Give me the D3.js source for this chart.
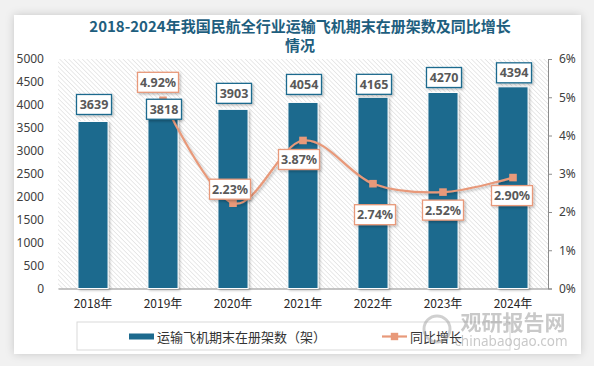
<!DOCTYPE html>
<html><head><meta charset="utf-8">
<script src="https://cdn.jsdelivr.net/npm/d3@7/dist/d3.min.js"></script>
<style>
html,body{margin:0;padding:0;background:#f1f1f1;}
svg{display:block;}
</style></head>
<body>
<svg id="chart" width="594" height="366"></svg>
<script>
const categories = ["2018年","2019年","2020年","2021年","2022年","2023年","2024年"];
const fleet = [3639,3818,3903,4054,4165,4270,4394];
const growth = [null,4.92,2.23,3.87,2.74,2.52,2.90];
const leftTicks = [0,500,1000,1500,2000,2500,3000,3500,4000,4500,5000];
const rightTicks = [0,1,2,3,4,5,6];
const titleLines = ["2018-2024年我国民航全行业运输飞机期末在册架数及同比增长","情况"];
const legendLabels = ["运输飞机期末在册架数（架）","同比增长"];
// label placement offsets (px) relative to mark
const barLabelDy = [-17,-4,-16,-18,-13,-15,-14];
const lineLabelDx = [0,-5,-3,-4,2,0,-1];
const lineLabelDy = [0,-18,-14,19,31,18,18];

const BLUE = "#1d6a8e", ORANGE = "#e8997a", LABEL = "#595959";
const svg = d3.select("#chart");
const defs = svg.append("defs");
const sh = defs.append("filter").attr("id","shadow").attr("x","-20%").attr("y","-20%").attr("width","150%").attr("height","150%");
sh.append("feDropShadow").attr("dx",1.5).attr("dy",1.5).attr("stdDeviation",1.2).attr("flood-color","#000").attr("flood-opacity",0.25);
const cardSh = defs.append("filter").attr("id","cardshadow").attr("x","-5%").attr("y","-5%").attr("width","110%").attr("height","110%");
cardSh.append("feDropShadow").attr("dx",0).attr("dy",0).attr("stdDeviation",4).attr("flood-color","#000").attr("flood-opacity",0.18);
const pat = defs.append("pattern").attr("id","hatch").attr("patternUnits","userSpaceOnUse")
  .attr("width",3.2).attr("height",3.2).attr("patternTransform","rotate(-45)");
pat.append("rect").attr("width",3.2).attr("height",3.2).attr("fill","#ffffff");
pat.append("line").attr("x1",0).attr("y1",0).attr("x2",0).attr("y2",3.2).attr("stroke","#d4d4d4").attr("stroke-width",1);

// card
svg.append("rect").attr("x",14).attr("y",15).attr("width",567).attr("height",339).attr("fill","#fff").attr("filter","url(#cardshadow)");

// title
svg.append("g").selectAll("text").data(titleLines).join("text")
  .attr("x",300).attr("y",(d,i)=>32+i*19).attr("text-anchor","middle")
  .attr("font-family","'Noto Sans CJK SC','Noto Sans',sans-serif").attr("font-weight","bold")
  .attr("font-size",15).attr("fill","#1e5e7e").text(d=>d);

const m = {l:58, r:548, t:59, b:288.5};
const x = d3.scaleBand().domain(categories).range([m.l,m.r]).paddingInner(0.57).paddingOuter(0.285);
const yL = d3.scaleLinear().domain([0,5000]).range([m.b,m.t]);
const yR = d3.scaleLinear().domain([0,6]).range([m.b,m.t]);

// plot area hatch
svg.append("rect").attr("x",m.l).attr("y",m.t).attr("width",m.r-m.l).attr("height",m.b-m.t).attr("fill","url(#hatch)");

// left axis
const gL = svg.append("g").attr("transform",`translate(${m.l-14},0)`)
  .call(d3.axisLeft(yL).tickValues(leftTicks).tickSize(0).tickPadding(0).tickFormat(d3.format("d")));
gL.select(".domain").remove();
gL.selectAll("text").attr("font-family","'Noto Sans',sans-serif").attr("font-size",12).attr("fill","#404040");

// right axis
const gR = svg.append("g").attr("transform",`translate(${m.r},0)`)
  .call(d3.axisRight(yR).tickValues(rightTicks).tickSize(4).tickPadding(7).tickFormat(d=>d+"%"));
gR.select(".domain").attr("stroke","#8c8c8c");
gR.selectAll(".tick line").attr("stroke","#8c8c8c");
gR.selectAll("text").attr("font-family","'Noto Sans',sans-serif").attr("font-size",12).attr("fill","#404040");

// bottom axis
const gB = svg.append("g").attr("transform",`translate(0,${m.b})`)
  .call(d3.axisBottom(x).tickSize(0).tickPadding(11));
gB.select(".domain").attr("stroke","#8c8c8c").attr("stroke-width",1.2);
gB.selectAll("text").attr("font-family","'Noto Sans CJK SC','Noto Sans',sans-serif").attr("font-size",12).attr("fill","#262626");

// bars
svg.append("g").selectAll("rect").data(fleet).join("rect")
  .attr("x",(d,i)=>x(categories[i])).attr("width",x.bandwidth())
  .attr("y",d=>yL(d)).attr("height",d=>m.b-yL(d))
  .attr("fill",BLUE).attr("stroke","#fff").attr("stroke-width",1).attr("filter","url(#shadow)");

// line
const pts = growth.map((v,i)=>({v,i})).filter(d=>d.v!==null);
const cx = i => x(categories[i]) + x.bandwidth()/2;
const line = d3.line().x(d=>cx(d.i)).y(d=>yR(d.v)).curve(d3.curveCatmullRom.alpha(0));
svg.append("path").datum(pts).attr("d",line).attr("fill","none").attr("stroke",ORANGE).attr("stroke-width",2.2).attr("filter","url(#shadow)");
svg.append("g").selectAll("rect").data(pts).join("rect")
  .attr("x",d=>cx(d.i)-3.8).attr("y",d=>yR(d.v)-3.8).attr("width",7.6).attr("height",7.6).attr("fill",ORANGE);

// label helper
function labelBox(g, cxv, cyv, text, color, w){
  g.append("rect").attr("x",cxv-w/2).attr("y",cyv-10).attr("width",w).attr("height",20)
    .attr("fill","#fff").attr("stroke",color).attr("stroke-width",1.3).attr("filter","url(#shadow)");
  g.append("text").attr("x",cxv).attr("y",cyv+4.5).attr("text-anchor","middle")
    .attr("font-family","'Noto Sans','Open Sans',sans-serif").attr("font-weight","bold").attr("font-size",12.5)
    .attr("fill",LABEL).text(text);
}
const lblG = svg.append("g");
pts.forEach(d=>{
  labelBox(lblG, cx(d.i)+lineLabelDx[d.i], yR(d.v)+lineLabelDy[d.i], d.v.toFixed(2)+"%", ORANGE, 41);
});
fleet.forEach((v,i)=>{
  labelBox(lblG, cx(i)+1, yL(v)+barLabelDy[i], String(v), BLUE, 35);
});

// legend
const lg = svg.append("g");
lg.append("rect").attr("x",77).attr("y",322).attr("width",433).attr("height",28).attr("fill","none").attr("stroke","#d9d9d9");
lg.append("rect").attr("x",129).attr("y",333.5).attr("width",25).attr("height",6).attr("fill",BLUE);
lg.append("text").attr("x",157).attr("y",341.5).attr("font-family","'Noto Sans CJK SC',sans-serif").attr("font-size",13).attr("fill","#333").text(legendLabels[0]);
lg.append("line").attr("x1",382).attr("x2",407).attr("y1",336.5).attr("y2",336.5).attr("stroke",ORANGE).attr("stroke-width",2.2);
lg.append("rect").attr("x",390.8).attr("y",332.8).attr("width",7.4).attr("height",7.4).attr("fill",ORANGE);
lg.append("text").attr("x",410).attr("y",341.5).attr("font-family","'Noto Sans CJK SC',sans-serif").attr("font-size",13).attr("fill","#333").text(legendLabels[1]);

// watermark
const wm = svg.append("g").attr("opacity",0.45);
wm.append("text").attr("x",513).attr("y",330).attr("text-anchor","middle").attr("font-family","'Noto Sans CJK SC',sans-serif")
  .attr("font-weight","bold").attr("font-size",21).attr("fill","#888").text("观研报告网");
wm.append("text").attr("x",511).attr("y",346).attr("text-anchor","middle").attr("font-family","'Noto Sans',sans-serif")
  .attr("font-size",13.5).attr("fill","#888").text("chinabaogao.com");
wm.append("circle").attr("cx",437).attr("cy",329).attr("r",13).attr("fill","none").attr("stroke","#999").attr("stroke-width",3);
</script>
</body></html>
